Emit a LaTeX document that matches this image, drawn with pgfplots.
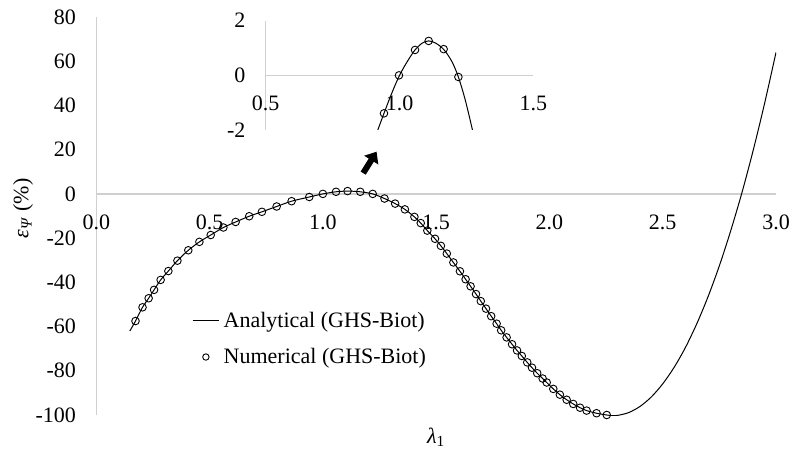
\documentclass[border=0pt]{standalone}
\usepackage{fontspec}
\setmainfont{Liberation Serif}
\usepackage{pgfplots}
\pgfplotsset{compat=1.18}
\usepackage{pgfplotstable}
\usetikzlibrary{arrows.meta}
\definecolor{axgray}{RGB}{208,208,208}

\pgfplotstableread{
x y
0.148 -62
0.173 -57.5
0.204 -51.3
0.231 -47.2
0.255 -43.4
0.284 -38.9
0.318 -34.9
0.358 -30.2
0.406 -25.5
0.455 -21.7
0.505 -18.6
0.561 -15.2
0.615 -12.7
0.675 -10.1
0.731 -8.1
0.796 -5.7
0.862 -3.3
0.940 -1.4
1.000 0
1.058 0.95
1.109 1.27
1.165 0.95
1.220 0
1.272 -2.1
1.319 -4.4
1.362 -7.0
1.404 -10.4
1.432 -13.2
1.461 -16.6
1.495 -20.3
1.521 -23.5
1.547 -27.0
1.576 -31.0
1.605 -35.0
1.630 -38.6
1.652 -41.8
1.676 -45.3
1.697 -48.5
1.720 -51.9
1.743 -55.3
1.767 -58.7
1.787 -61.7
1.811 -64.9
1.835 -68.0
1.857 -70.8
1.878 -73.3
1.902 -76.2
1.923 -78.6
1.946 -81.1
1.970 -83.5
1.988 -85.3
2.017 -88.2
2.046 -90.8
2.076 -93.1
2.105 -95.0
2.135 -96.7
2.164 -98.0
2.208 -99.2
2.253 -100.0
2.280 -100.3
2.300 -100.2
2.350 -98.9
2.400 -96.1
2.450 -91.8
2.500 -85.9
2.550 -78.5
2.600 -69.5
2.650 -58.8
2.700 -46.5
2.750 -32.5
2.800 -16.7
2.850 0.7
2.900 20.0
2.950 41.1
3.000 64.0
}\mainline

\pgfplotstableread{
x y
0.173 -57.5
0.204 -51.3
0.231 -47.2
0.255 -43.4
0.284 -38.9
0.318 -34.9
0.358 -30.2
0.406 -25.5
0.455 -21.7
0.505 -18.6
0.561 -15.2
0.615 -12.7
0.675 -10.1
0.731 -8.1
0.796 -5.7
0.862 -3.3
0.940 -1.4
1.000 0
1.058 0.95
1.109 1.27
1.165 0.95
1.220 0
1.272 -2.1
1.319 -4.4
1.362 -7.0
1.404 -10.4
1.432 -13.2
1.461 -16.6
1.495 -20.3
1.521 -23.5
1.547 -27.0
1.576 -31.0
1.605 -35.0
1.630 -38.6
1.652 -41.8
1.676 -45.3
1.697 -48.5
1.720 -51.9
1.743 -55.3
1.767 -58.7
1.787 -61.7
1.811 -64.9
1.835 -68.0
1.857 -70.8
1.878 -73.3
1.902 -76.2
1.923 -78.6
1.946 -81.1
1.970 -83.5
1.988 -85.3
2.017 -88.2
2.046 -90.8
2.076 -93.1
2.105 -95.0
2.135 -96.7
2.164 -98.0
2.208 -99.2
2.253 -100.0
}\mainmarks

\pgfplotstableread{
x y
0.917 -2.05
0.942 -1.39
0.970 -0.68
1.000 0
1.030 0.52
1.058 0.93
1.085 1.18
1.109 1.26
1.135 1.18
1.165 0.95
1.195 0.52
1.220 -0.06
1.247 -0.95
1.275 -2.1
}\insetline

\pgfplotstableread{
x y
0.942 -1.39
0.998 0
1.058 0.93
1.109 1.26
1.165 0.96
1.220 -0.06
}\insetmarks

\pgfplotsset{
  excelstyle/.style={
    scale only axis,
    enlargelimits=false,
    axis x line*=middle,
    axis y line*=left,
    axis line style={draw=axgray, line width=0.65pt},
    major tick length=0pt,
    hide obscured x ticks=false,
    hide obscured y ticks=false,
    /pgf/number format/assume math mode=true,
    xticklabel style={/pgf/number format/.cd, fixed, fixed zerofill, precision=1, /tikz/.cd, yshift=-6.5pt, text=black},
    yticklabel style={/pgf/number format/.cd, fixed, precision=0, /tikz/.cd, xshift=-6.3pt, text=black},
    clip=true,
  }
}

\begin{document}
\fontsize{11}{13}\selectfont
\begin{tikzpicture}
\useasboundingbox (-48.15pt,-17.5pt) rectangle (346.85pt,207.5pt);
\begin{axis}[
  excelstyle,
  at={(0pt,0pt)}, anchor=south west,
  width=339.85pt, height=199pt,
  xmin=0, xmax=3, ymin=-100, ymax=80,
  xtick={0,0.5,1,1.5,2,2.5,3},
  ytick={-100,-80,-60,-40,-20,0,20,40,60,80},
  every axis x label/.style={at={(rel axis cs:0.5,-0.0704)}, anchor=base},
  every axis y label/.style={at={(rel axis cs:-0.1,0.519)}, rotate=90, anchor=base},
  xlabel={\textit{λ}\textsubscript{1}},
  ylabel={\textit{ε}\textsubscript{\textit{Ψ}} (\%)},
  legend style={at={(axis cs:0.421,-53.4)}, anchor=north west, draw=none, fill=none,
    inner sep=0pt, nodes={inner sep=0pt}, column sep=2pt, row sep=8.8pt},
  legend cell align=left,
  legend image code/.code={\draw[mark repeat=2, mark phase=2, #1, mark size=1.6pt] plot coordinates {(0pt,0.4pt) (6.65pt,0.4pt) (13.3pt,0.4pt)};},
]
\addplot[black, line width=0.5pt, smooth, no marks] table {\mainline};
\addlegendentry{Analytical (GHS-Biot)}
\addplot[only marks, mark=o, mark size=1.9pt, mark options={black, line width=0.45pt}] table {\mainmarks};
\addlegendentry{Numerical (GHS-Biot)}
\draw[black, line width=3pt, -{Triangle[length=5pt, width=8pt]}] (axis cs:1.178,9.4) -- (axis cs:1.237,19.1);
\end{axis}
\begin{axis}[
  excelstyle,
  at={(84.7pt,142.5pt)}, anchor=south west,
  width=133.8pt, height=54.65pt,
  xmin=0.5, xmax=1.5, ymin=-2, ymax=2,
  xtick={0.5,1,1.5},
  ytick={-2,0,2},
]
\addplot[black, line width=0.5pt, smooth, no marks] table {\insetline};
\addplot[only marks, mark=o, mark size=1.9pt, mark options={black, line width=0.45pt}] table {\insetmarks};
\end{axis}
\end{tikzpicture}
\end{document}
